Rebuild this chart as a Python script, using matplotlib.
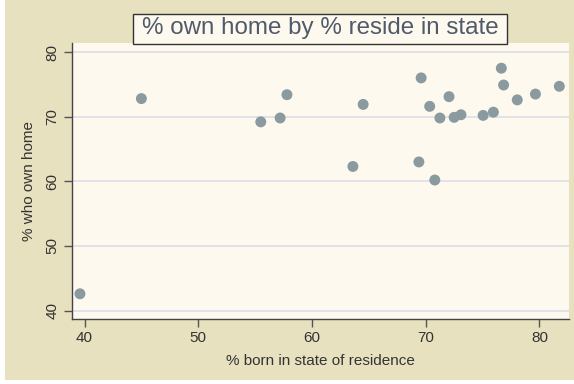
import matplotlib.pyplot as plt
from matplotlib.patches import Rectangle

# % born in state of residence vs % who own home
born_in_state = [39.6, 45.0, 55.5, 57.2, 57.8, 63.6, 64.5, 69.4, 69.6, 70.35, 70.8,
                 71.25, 72.05, 72.5, 73.1, 75.05, 75.95, 76.65, 76.85, 78.05, 79.65, 81.75]
own_home = [42.6, 72.8, 69.2, 69.8, 73.4, 62.3, 71.9, 63.0, 76.0, 71.6, 60.2,
            69.8, 73.1, 69.9, 70.3, 70.2, 70.7, 77.5, 74.9, 72.6, 73.5, 74.7]
xticks = [40, 50, 60, 70, 80]
yticks = [40, 50, 60, 70, 80]

bg = '#e7e1bf'
plotbg = '#fdf9ee'
ink = '#333333'

plt.rcParams['font.family'] = ['Liberation Sans', 'DejaVu Sans']

W, H = 574, 384
fig = plt.figure(figsize=(W / 100, H / 100), dpi=100, facecolor=bg)
# white strips at left and bottom edge of the original image
fig.patches.append(Rectangle((0, 0), 5 / W, 1, transform=fig.transFigure,
                             facecolor='white', edgecolor='none', zorder=-1))
fig.patches.append(Rectangle((0, 0), 1, 4 / H, transform=fig.transFigure,
                             facecolor='white', edgecolor='none', zorder=-1))

ax = fig.add_axes([72 / W, 1 - 319 / H, 497 / W, 276 / H])
ax.set_facecolor(plotbg)

ax.scatter(born_in_state, own_home, s=62, color='#8a9a9f', edgecolors='none', zorder=3)

ax.set_xlim(38.9, 82.6)
ax.set_ylim(38.7, 81.4)
ax.set_xticks(xticks)
ax.set_yticks(yticks)
ax.set_yticklabels([str(v) for v in yticks], rotation=90, va='center')
ax.tick_params(direction='out', length=6, width=1, color='#555555',
               labelcolor=ink, labelsize=11, pad=3)
ax.grid(axis='y', color='#dcdee6', linewidth=1.2, zorder=1)

for side in ('top', 'right'):
    ax.spines[side].set_visible(False)
for side in ('left', 'bottom'):
    ax.spines[side].set_color('#444444')
    ax.spines[side].set_linewidth(1)

ax.set_xlabel('% born in state of residence', fontsize=11, color=ink, labelpad=6)
ax.set_ylabel('% who own home', fontsize=11, color=ink, labelpad=7)

# title box sits right on top of the plot region
fig.patches.append(Rectangle((133 / W, 1 - 43.5 / H), 374 / W, 29 / H,
                             transform=fig.transFigure, facecolor=plotbg,
                             edgecolor='#333333', linewidth=1, zorder=5))
fig.text(320 / W, 1 - 34 / H, '% own home by % reside in state', fontsize=17.4,
         color='#515a6b', ha='center', va='baseline', zorder=6)

fig.savefig('out.png', dpi=100, facecolor=bg)
